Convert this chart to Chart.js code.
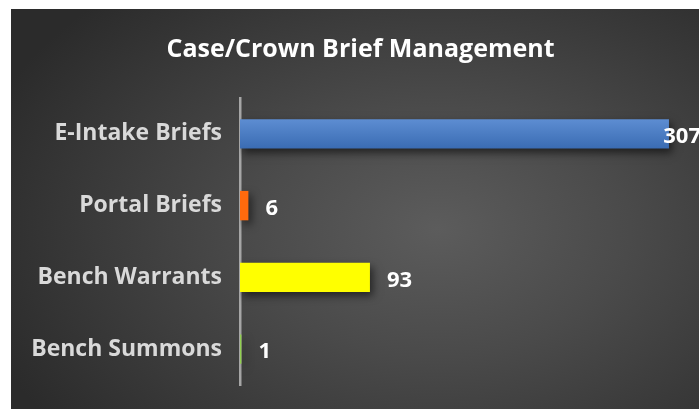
<!DOCTYPE html>
<html>
<head>
<meta charset="utf-8">
<script src="https://cdn.jsdelivr.net/npm/chart.js@4.4.1/dist/chart.umd.min.js"></script>
<style>
  html, body { margin: 0; padding: 0; background: #fff; }
  #wrap {
    position: absolute; left: 0; top: 0; width: 699px; height: 409px;
  }
  #bg {
    position: absolute; left: 11px; top: 9px; width: 688px; height: 400px;
    background: radial-gradient(ellipse 70% 80% at 62% 55%, #5c5c5c 0%, #4a4a4a 40%, #2b2b2b 100%);
  }
  canvas { position: absolute; left: 0; top: 0; }
</style>
</head>
<body>
<div id="wrap">
  <div id="bg"></div>
  <canvas id="chart" width="699" height="409"></canvas>
</div>
<script>
// chart data
var categories = ['E-Intake Briefs', 'Portal Briefs', 'Bench Warrants', 'Bench Summons'];
var values = [307, 6, 93, 1];
var barColors = ['#4a7cc4', '#ff6a0d', '#ffff00', '#92d050'];
var chartTitle = 'Case/Crown Brief Management';

var FONT = '"Open Sans", sans-serif';
var BAR_PCT = 0.41;

function blueGradient(context) {
    var chart = context.chart;
    var area = chart.chartArea;
    var yScale = chart.scales.y;
    if (!area || !yScale) return barColors[0];
    var cy = yScale.getPixelForValue(context.dataIndex);
    var h = BAR_PCT * area.height / categories.length;
    if (!isFinite(cy) || !isFinite(h)) return barColors[0];
    var g = chart.ctx.createLinearGradient(0, cy - h / 2, 0, cy + h / 2);
    g.addColorStop(0, '#5d8dd2');
    g.addColorStop(1, '#3a6cb3');
    return g;
}

// soft shadow under the bars
var barShadow = {
    id: 'barShadow',
    beforeDatasetsDraw: function(chart) {
        var ctx = chart.ctx;
        ctx.save();
        ctx.shadowColor = 'rgba(0,0,0,0.55)';
        ctx.shadowBlur = 8;
        ctx.shadowOffsetX = 3;
        ctx.shadowOffsetY = 4;
    },
    afterDatasetsDraw: function(chart) {
        chart.ctx.restore();
    }
};

// value labels at the end of each bar
var valueLabels = {
    id: 'valueLabels',
    afterDatasetsDraw: function(chart) {
        var ctx = chart.ctx;
        var meta = chart.getDatasetMeta(0);
        ctx.save();
        ctx.font = 'bold 22px ' + FONT;
        ctx.fillStyle = '#ffffff';
        ctx.textAlign = 'left';
        ctx.textBaseline = 'middle';
        meta.data.forEach(function(bar, i) {
            var txt = String(values[i]);
            var w = ctx.measureText(txt).width;
            var x = bar.x + 17;
            if (x + w > chart.width + 2) x = chart.width + 2 - w;
            ctx.fillText(txt, x, bar.y + 3);
        });
        ctx.restore();
    }
};

var ctx = document.getElementById('chart').getContext('2d');
var chart = new Chart(ctx, {
    type: 'bar',
    data: {
        labels: categories,
        datasets: [{
            data: values,
            backgroundColor: function(c) {
                return c.dataIndex === 0 ? blueGradient(c) : barColors[c.dataIndex];
            },
            borderWidth: 0,
            categoryPercentage: 1,
            barPercentage: BAR_PCT
        }]
    },
    options: {
        indexAxis: 'y',
        responsive: false,
        animation: false,
        layout: { padding: { left: 22, right: 0, top: 0, bottom: 24 } },
        plugins: {
            legend: { display: false },
            tooltip: { enabled: false },
            title: {
                display: true,
                text: chartTitle,
                color: '#ffffff',
                font: { family: FONT, size: 25, weight: 'bold' },
                padding: { top: 35, bottom: 33 }
            }
        },
        scales: {
            x: {
                display: false,
                min: 0,
                max: 328.5
            },
            y: {
                grid: { display: false, drawTicks: false },
                border: { display: true, color: '#a6a6a6', width: 2.5 },
                ticks: {
                    color: '#d9d9d9',
                    font: { family: FONT, size: 23, weight: 'bold' },
                    padding: 18
                },
                afterFit: function(scale) {
                    scale.width = 218;
                    scale.paddingTop = 0;
                    scale.paddingBottom = 0;
                }
            }
        }
    },
    plugins: [barShadow, valueLabels]
});
</script>
</body>
</html>
